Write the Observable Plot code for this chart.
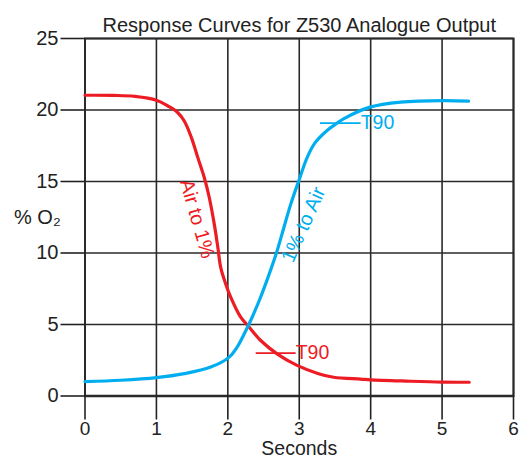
<!DOCTYPE html>
<html>
<head>
<meta charset="utf-8">
<script src="https://cdn.jsdelivr.net/npm/d3@7"></script>
<script src="https://cdn.jsdelivr.net/npm/@observablehq/plot@0.6"></script>
<style>
  html, body { margin: 0; padding: 0; background: #fff; }
  #chart { width: 520px; height: 461px; }
</style>
</head>
<body>
<div id="chart"></div>
<script>
const titleText = "Response Curves for Z530 Analogue Output";
const xLabel = "Seconds";
const yLabel = "% O₂";
const xTicks = [0, 1, 2, 3, 4, 5, 6];
const yTicks = [0, 5, 10, 15, 20, 25];

// "Air to 1%" response (red)
const redX = [0, 0.4, 0.7, 1.0, 1.16, 1.30, 1.39, 1.49, 1.58, 1.67, 1.74, 1.81, 1.86, 1.90, 1.97, 2.04, 2.18, 2.30, 2.46, 2.69, 2.97, 3.27, 3.48, 3.86, 4.0, 4.5, 5.0, 5.38];
const redY = [21.03, 21.02, 20.95, 20.68, 20.28, 19.81, 19.23, 18.07, 16.67, 15.28, 13.88, 12.02, 10.40, 9.0, 7.84, 6.91, 5.51, 4.81, 3.88, 2.95, 2.14, 1.56, 1.31, 1.18, 1.13, 1.04, 0.97, 0.96];
// "1% to Air" response (blue)
const blueX = [0, 0.5, 1.0, 1.39, 1.76, 2.02, 2.13, 2.23, 2.32, 2.45, 2.57, 2.68, 2.78, 2.88, 2.99, 3.11, 3.22, 3.39, 3.53, 3.62, 3.99, 4.42, 5.02, 5.37];
const blueY = [1.01, 1.1, 1.28, 1.56, 2.02, 2.72, 3.42, 4.35, 5.28, 6.8, 8.4, 10.0, 11.7, 13.4, 15.0, 16.67, 17.7, 18.57, 19.08, 19.38, 20.2, 20.55, 20.66, 20.62];

// T90 markers
const t90Name = ["red", "blue"];
const t90X1 = [2.39, 3.29];
const t90X2 = [2.95, 3.86];
const t90Y = [3.0, 19.08];
const t90Label = ["T90", "T90"];

// curve labels
const curveLabel = ["Air to 1%", "1% to Air"];
const curveLabelX = [1.57, 3.06];
const curveLabelY = [12.39, 11.98];
const curveLabelRot = [74, -66];

const RED = "#ED1C24";
const BLUE = "#00AEEF";
const colorOf = {red: RED, blue: BLUE};

const red = redX.map((x, i) => ({x, y: redY[i]}));
const blue = blueX.map((x, i) => ({x, y: blueY[i]}));
const t90 = t90Name.map((n, i) => ({n, x1: t90X1[i], x2: t90X2[i], y: t90Y[i], label: t90Label[i]}));
const labels = curveLabel.map((t, i) => ({t, x: curveLabelX[i], y: curveLabelY[i], r: curveLabelRot[i], c: i === 0 ? RED : BLUE}));

const FONT = "'Liberation Sans', Arial, Helvetica, sans-serif";

const chart = Plot.plot({
  width: 520,
  height: 461,
  marginLeft: 84.5,
  marginRight: 7,
  marginTop: 38,
  marginBottom: 65.5,
  style: {fontFamily: FONT, fontSize: "20px", color: "#222", background: "#fff"},
  x: {domain: [0, 6]},
  y: {domain: [0, 25]},
  marks: [
    Plot.gridX(xTicks, {stroke: "#2a2a2a", strokeOpacity: 1, strokeWidth: 1.6}),
    Plot.gridY(yTicks, {stroke: "#2a2a2a", strokeOpacity: 1, strokeWidth: 1.6}),
    Plot.frame({stroke: "#2a2a2a", strokeWidth: 2}),
    Plot.ruleY([0], {stroke: "#2a2a2a", strokeWidth: 2.4}),
    Plot.axisX(xTicks, {tickSize: 24, tickPadding: 1, label: null, fontSize: 19, strokeWidth: 1.6, fill: "#222"}),
    Plot.axisY(yTicks, {tickSize: 24, tickPadding: 2.5, label: null, fontSize: 20, strokeWidth: 1.6, fill: "#222"}),
    Plot.line(red, {x: "x", y: "y", stroke: RED, strokeWidth: 3.2, curve: "catmull-rom"}),
    Plot.line(blue, {x: "x", y: "y", stroke: BLUE, strokeWidth: 3.2, curve: "catmull-rom"}),
    Plot.link(t90, {x1: "x1", x2: "x2", y1: "y", y2: "y", stroke: d => colorOf[d.n], strokeWidth: 1.6}),
    Plot.text(t90, {x: "x2", y: "y", text: "label", fill: d => colorOf[d.n], textAnchor: "start", fontSize: 19.5}),
    Plot.text(labels, {x: "x", y: "y", text: "t", fill: "c", rotate: "r", fontSize: 20}),
    Plot.text([titleText], {frameAnchor: "top", dy: -21, fontSize: 20, fill: "#222"}),
    Plot.text([xLabel], {frameAnchor: "bottom", dy: 58.5, fontSize: 19.5, fill: "#222"}),
    Plot.text([yLabel], {frameAnchor: "left", dx: -71, textAnchor: "start", fontSize: 20, fill: "#222"})
  ]
});
document.getElementById("chart").appendChild(chart);
</script>
</body>
</html>
